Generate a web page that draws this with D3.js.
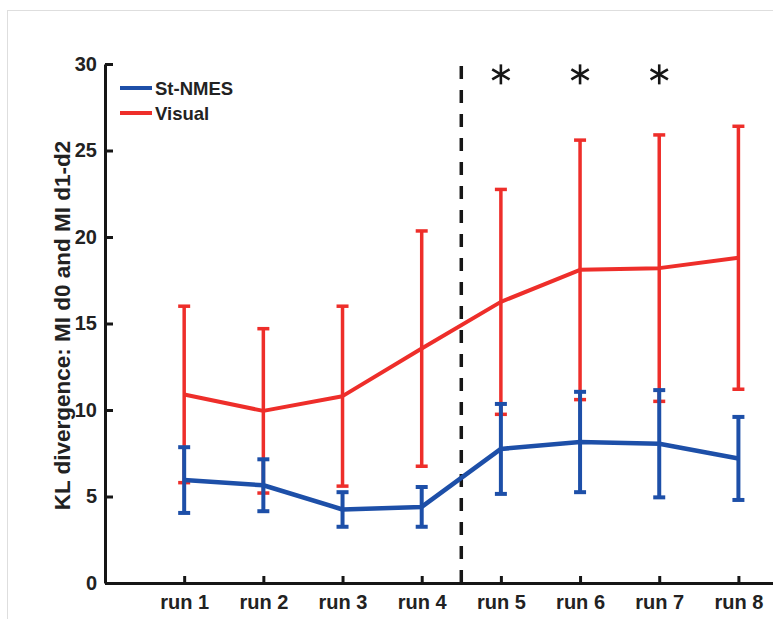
<!DOCTYPE html>
<html>
<head>
<meta charset="utf-8">
<script src="https://cdn.jsdelivr.net/npm/d3@7"></script>
<style>
  body { margin: 0; background: #fff; }
  svg { display: block; font-family: "Liberation Sans", Arial, sans-serif; font-weight: bold; }
</style>
</head>
<body>
<svg id="chart" width="773" height="619"></svg>
<script>
// values
const runs = ['run 1', 'run 2', 'run 3', 'run 4', 'run 5', 'run 6', 'run 7', 'run 8'];
const visualMean = [10.9, 9.95, 10.8, 13.55, 16.25, 18.1, 18.2, 18.8];
const visualErr = [5.1, 4.75, 5.2, 6.8, 6.5, 7.5, 7.7, 7.6];
const nmesMean = [5.95, 5.65, 4.25, 4.4, 7.75, 8.15, 8.05, 7.2];
const nmesErr = [1.9, 1.5, 1.0, 1.15, 2.6, 2.9, 3.1, 2.4];
const starRuns = [5, 6, 7];
const yTicks = [0, 5, 10, 15, 20, 25, 30];
const splitAt = 4.5;

const RED = '#ee2e2a';
const BLUE = '#1d4fa8';
const INK = '#161616';

const svg = d3.select('#chart');

// faint frame of the exported figure
svg.append('rect')
  .attr('x', 7.5).attr('y', 10.5)
  .attr('width', 800).attr('height', 700)
  .attr('fill', 'none')
  .attr('stroke', '#dedede');

const x = d3.scaleLinear().domain([0, 8.5]).range([105, 778]);
const y = d3.scaleLinear().domain([0, 30]).range([583, 64]);

const plot = svg.append('g');

// vertical dashed separator
plot.append('line')
  .attr('x1', x(splitAt)).attr('x2', x(splitAt))
  .attr('y1', y(0)).attr('y2', y(30))
  .attr('stroke', INK)
  .attr('stroke-width', 3.5)
  .attr('stroke-dasharray', '13,11');

function series(mean, err, color, lineWidth, barWidth) {
  const g = plot.append('g');
  const data = mean.map((m, i) => ({ run: i + 1, m, e: err[i] }));

  g.selectAll('.bar')
    .data(data)
    .enter()
      .append('line')
      .classed('bar', true)
      .attr('x1', d => x(d.run)).attr('x2', d => x(d.run))
      .attr('y1', d => y(d.m - d.e)).attr('y2', d => y(d.m + d.e))
      .attr('stroke', color)
      .attr('stroke-width', barWidth);

  const caps = data.flatMap(d => [
    { run: d.run, v: d.m - d.e },
    { run: d.run, v: d.m + d.e }
  ]);
  g.selectAll('.cap')
    .data(caps)
    .enter()
      .append('line')
      .classed('cap', true)
      .attr('x1', d => x(d.run) - 6).attr('x2', d => x(d.run) + 6)
      .attr('y1', d => y(d.v)).attr('y2', d => y(d.v))
      .attr('stroke', color)
      .attr('stroke-width', barWidth);

  g.append('path')
    .datum(data)
    .attr('fill', 'none')
    .attr('stroke', color)
    .attr('stroke-width', lineWidth)
    .attr('stroke-linejoin', 'round')
    .attr('d', d3.line().x(d => x(d.run)).y(d => y(d.m)));
}

series(visualMean, visualErr, RED, 4, 3.5);
series(nmesMean, nmesErr, BLUE, 4.5, 4);

// axes
const xAxis = d3.axisBottom(x)
  .tickValues(d3.range(1, runs.length + 1))
  .tickFormat(i => runs[i - 1])
  .tickSizeInner(-7)
  .tickSizeOuter(0)
  .tickPadding(12);

const yAxis = d3.axisLeft(y)
  .tickValues(yTicks)
  .tickSizeInner(-8)
  .tickSizeOuter(0)
  .tickPadding(8);

const gx = svg.append('g')
  .attr('transform', `translate(0,${y(0)})`)
  .call(xAxis);

const gy = svg.append('g')
  .attr('transform', `translate(${x(0)},0)`)
  .call(yAxis);

[gx, gy].forEach(g => {
  g.select('.domain').attr('stroke', INK).attr('stroke-width', 3);
  g.selectAll('.tick line').attr('stroke', INK).attr('stroke-width', 3);
  g.selectAll('.tick text')
    .attr('fill', '#222')
    .style('font-size', '20px')
    .style('font-weight', 'bold')
    .style('font-family', '"Liberation Sans", Arial, sans-serif');
});

svg.append('text')
  .attr('transform', `translate(70,${(y(0) + y(30)) / 2 + 2}) rotate(-90)`)
  .attr('text-anchor', 'middle')
  .attr('fill', '#222')
  .style('font-size', '22.5px')
  .text('KL divergence: MI d0 and MI d1-d2');

// significance stars
const star = svg.append('g');
starRuns.forEach(r => {
  const cx = x(r), cy = y(29.4);
  [90, 30, 150].forEach(a => {
    const rad = a * Math.PI / 180;
    star.append('line')
      .attr('x1', cx - 10 * Math.cos(rad)).attr('y1', cy - 10 * Math.sin(rad))
      .attr('x2', cx + 10 * Math.cos(rad)).attr('y2', cy + 10 * Math.sin(rad))
      .attr('stroke', INK)
      .attr('stroke-width', 2.6);
  });
});

// legend
const legend = svg.append('g').attr('transform', 'translate(120,88)');
[['St-NMES', BLUE], ['Visual', RED]].forEach(([name, color], i) => {
  const row = legend.append('g').attr('transform', `translate(0,${i * 25})`);
  row.append('line')
    .attr('x1', 0).attr('x2', 32)
    .attr('stroke', color)
    .attr('stroke-width', 4);
  row.append('text')
    .attr('x', 35)
    .attr('dy', '0.36em')
    .attr('fill', '#222')
    .style('font-size', '18.5px')
    .text(name);
});
</script>
</body>
</html>
